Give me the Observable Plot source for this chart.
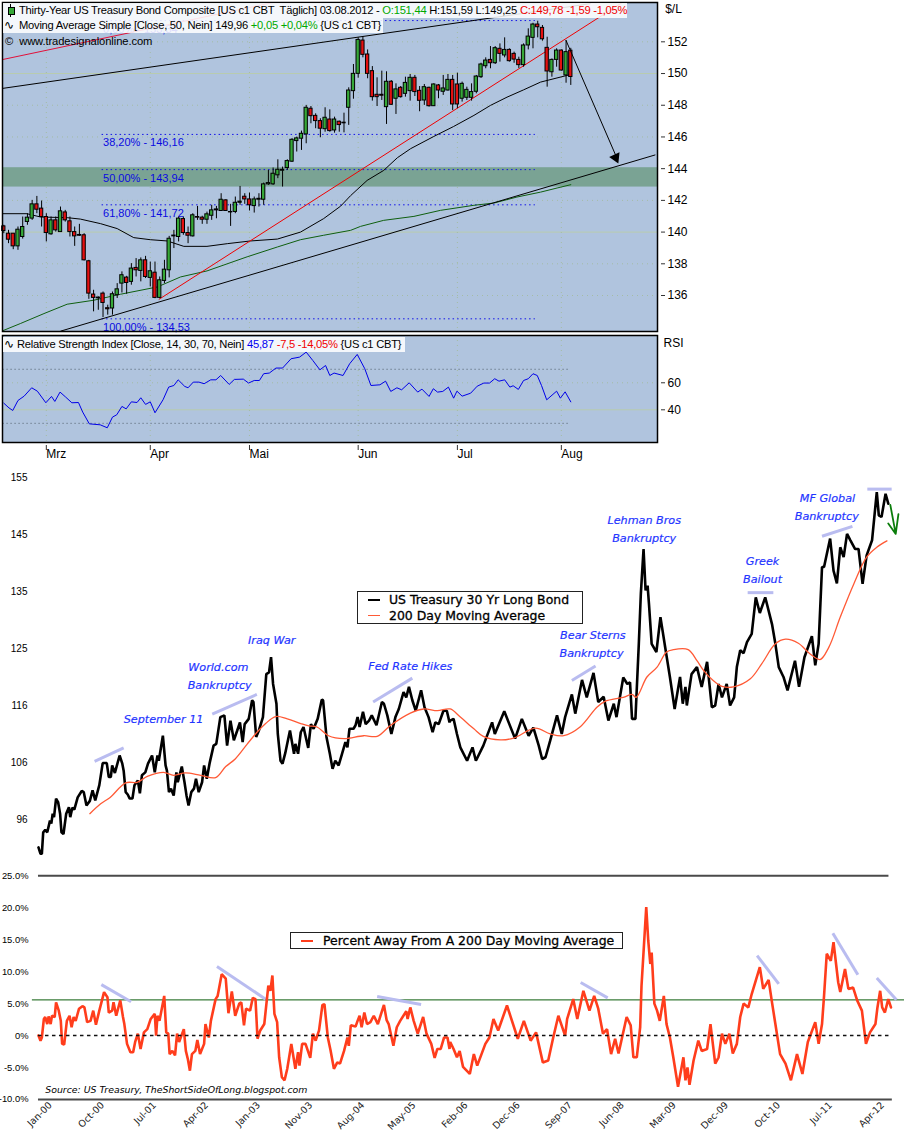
<!DOCTYPE html>
<html>
<head>
<meta charset="utf-8">
<script src="https://cdn.jsdelivr.net/npm/d3@7"></script>
<script src="https://cdn.jsdelivr.net/npm/@observablehq/plot@0.6"></script>
<style>
html,body{margin:0;padding:0;background:#fff}
#root{position:relative;width:904px;height:1147px;overflow:hidden;background:#fff}
.row{position:absolute;font-family:"Liberation Sans",sans-serif;font-size:11.2px;letter-spacing:-.25px;line-height:15px;white-space:pre;color:#000;background:rgba(255,255,255,.86)}
.g{color:#00a800}.r{color:#f00000}.b{color:#0000f0}
.box{position:absolute;background:#fff;border:1px solid #222;box-sizing:border-box}
.lg{position:absolute;font-family:"DejaVu Sans",sans-serif;font-size:12.45px;line-height:14px;white-space:pre;color:#000;-webkit-text-stroke:.3px #000}
.sw{position:absolute;height:0}
</style>
</head>
<body>
<div id="root"></div>
<script>
// ---- Top panel: daily candles (index = trading day) ----
const opens=[140.36,139.90,139.90,139.10,139.69,140.64,140.85,141.75,141.48,140.95,139.86,140.74,140.00,141.24,140.68,140.00,139.82,139.80,138.16,136.06,135.87,136.12,135.20,135.18,136.02,136.75,137.13,136.86,137.74,137.55,138.22,137.11,137.44,135.85,136.92,137.59,139.73,139.69,140.82,139.94,139.73,140.95,140.91,140.78,141.03,141.37,141.33,142.00,141.24,141.27,141.85,142.23,142.06,141.64,142.04,142.04,143.01,143.01,143.58,143.87,144.04,144.44,145.74,145.89,146.16,147.78,147.33,147.00,146.49,147.10,146.41,146.96,146.90,147.84,148.89,149.98,152.08,151.20,150.15,148.66,148.66,147.88,149.48,148.41,149.10,148.72,148.89,149.73,148.91,148.30,149.10,147.94,149.25,148.85,148.93,149.60,149.31,148.41,148.47,148.47,148.85,149.77,150.46,150.86,150.65,151.56,151.14,151.49,151.24,150.86,150.53,151.77,152.25,153.09,152.88,151.62,150.08,150.86,151.45,149.88,151.44];
const highs=[140.43,140.11,139.90,140.32,140.95,141.16,142.00,142.25,141.96,141.16,140.95,140.95,141.58,141.37,140.95,140.32,140.49,139.90,138.22,136.33,135.91,136.22,135.39,136.22,136.75,137.49,137.21,138.01,138.33,138.37,138.47,138.11,138.11,137.17,138.22,139.73,140.11,140.95,140.95,140.32,141.16,141.62,141.00,141.26,141.69,141.62,142.42,142.04,141.75,142.21,142.88,142.42,142.46,142.21,142.42,143.09,143.89,144.04,144.56,144.10,144.56,145.89,145.99,146.37,147.99,147.92,147.46,147.15,147.84,147.71,147.25,147.00,147.50,149.10,150.57,152.25,152.33,151.49,150.44,149.73,150.15,150.11,149.56,149.35,149.18,149.77,149.94,149.88,149.18,149.31,149.14,149.35,149.31,149.88,149.94,149.88,150.02,149.46,149.14,149.35,149.88,150.65,150.99,151.70,151.70,151.87,152.25,151.56,151.35,151.03,151.87,152.82,153.17,153.30,153.03,152.29,150.92,151.56,151.49,152.08,151.59];
const lows=[139.90,139.27,138.89,138.85,139.56,140.43,140.74,141.16,140.32,139.38,139.80,140.00,140.00,140.63,139.69,139.10,139.73,138.18,135.76,134.97,135.07,134.61,134.76,134.76,135.81,136.16,136.08,136.65,137.17,136.86,137.07,136.54,135.80,135.80,136.75,137.11,138.96,139.38,139.80,139.27,139.69,140.74,140.49,140.49,140.74,140.84,141.33,141.33,140.36,141.16,141.69,141.75,141.33,141.20,141.58,141.69,142.95,142.95,143.37,142.84,143.89,144.39,145.05,145.15,145.57,146.83,146.52,145.95,146.30,146.30,146.24,146.30,146.26,146.73,148.38,149.71,150.99,149.67,148.26,147.92,148.30,146.79,147.99,147.42,148.45,148.51,148.26,148.55,147.59,147.99,147.88,147.92,148.41,148.62,148.89,147.67,147.78,148.20,148.30,148.26,148.72,149.69,150.30,150.30,150.57,150.72,150.99,150.72,150.65,150.32,150.40,151.49,151.56,152.25,152.04,149.14,149.77,150.40,150.15,149.39,149.25];
const closes=[140.07,139.52,139.10,140.15,140.32,140.91,141.75,141.41,140.95,139.94,140.74,140.11,141.31,140.74,140.00,139.73,139.77,138.22,136.12,135.85,135.82,135.53,135.13,136.08,136.39,137.28,136.79,137.70,137.59,138.22,137.17,137.53,135.85,136.96,137.63,139.58,139.78,140.85,139.94,139.77,141.06,140.91,140.78,141.12,141.37,141.43,142.04,141.33,141.27,141.85,141.92,142.06,141.69,142.06,142.10,143.01,143.09,143.68,143.93,143.93,144.48,145.82,145.91,146.20,147.84,147.31,147.00,146.52,147.21,146.37,147.10,146.75,146.86,148.93,149.98,152.12,151.18,149.98,148.51,148.51,148.60,149.48,148.03,149.00,148.51,149.41,149.73,148.83,148.28,149.14,147.94,149.31,148.93,149.06,149.60,148.05,148.05,149.35,148.97,148.83,149.81,150.57,150.82,150.65,151.60,151.24,151.49,150.78,150.88,150.53,151.77,152.33,153.09,152.92,152.16,150.13,150.86,151.45,150.19,151.35,149.78];
const ma50Days=[-0.3,4.9,7.8,13.4,16.2,20.5,24,27.5,31,34.6,38.1,43,47.3,52.2,57.9,62.8,67.7,71.3,73.4,76.9,80.4,83.3,86.1,91,95.2,99.5,103,106.5,110,113.6,120];
const ma50Vals=[141.16,141.16,140.95,140.91,140.82,140.53,140.22,139.65,139.52,139.44,139.10,139.10,139.27,139.44,139.56,140.00,140.85,141.64,142.30,143.26,143.89,144.69,145.26,146.03,146.66,147.36,147.99,148.51,148.97,149.46,149.94];
const ma200Days=[-0.3,3.5,8.5,13.4,19,24.7,32.5,37.4,43,51.5,57.9,62.8,67.7,73.4,75.5,80.4,86.8,92.4,99.5,103.7,108.6,113.6,117.1,120];
const ma200Vals=[133.77,134.23,134.86,135.45,135.70,136.08,136.54,137.17,137.55,138.44,139.06,139.52,139.80,140.11,140.36,140.74,140.99,141.37,141.69,141.83,142.21,142.52,142.78,142.99];
const trendLines=[
 {x1:-0.3,y1:149.06,x2:124.2,y2:154.41,stroke:"#000"},
 {x1:-0.3,y1:150.88,x2:57,y2:154.48,stroke:"#e0103a"},
 {x1:32.8,y1:135.75,x2:130.9,y2:154.48,stroke:"#f00000"},
 {x1:12,y1:133.75,x2:137.9,y2:144.87,stroke:"#000"}
];
const fibLevels=[153.34,146.16,143.94,141.72,134.53];
const fibLabels=["0,00% - 153,34","38,20% - 146,16","50,00% - 143,94","61,80% - 141,72","100,00% - 134,53"];
const zoneLow=142.84, zoneHigh=144.06;
const arrowDays=[119,129.8], arrowPrices=[152.08,144.64];
const priceTicks=[136,138,140,142,144,146,148,150,152];
// ---- RSI ----
const rsiDays=[0,1.1,1.9,3,4.3,5.9,7.1,8.9,10.1,10.8,11.9,13.1,14.4,15.8,16.7,18.1,20.4,21.9,23,23.9,25,25.9,27,28.2,29,30,31,32,33.7,34.9,36,36.9,38.3,39,40.1,41.3,42.4,43.8,44.9,45.9,47.7,48.8,50.7,51.8,53,54.1,55,56.2,57.6,59,60.8,62.6,64,65.4,66.9,68.1,69,69.9,71.8,73.2,74.8,76.4,77.7,79.6,80.8,81.9,83.2,84.2,85.8,87.6,88.5,90,90.9,91.8,92.9,94.1,95.2,95.9,97,98.8,100.2,101.6,102.8,103.9,104.8,106,107.1,107.8,108.9,110,111,112,112.9,113.8,114.9,117,117.8,118.8,120];
const rsiVals=[44.9,41.4,39.5,46.9,50.1,56.3,53.8,45.2,49.9,46.2,53.1,49.4,45.2,45.4,38.3,29.6,28.9,26.7,34.6,36.3,42.5,40.7,45.9,45.4,48.9,44,45.9,37.8,47.4,56.8,58,62.2,57.3,56.3,60.5,60.5,59.3,62.2,62.2,65.4,58.8,62.5,62.7,59.8,61.7,61.7,66.7,67.2,70.9,70.9,77.8,79,82.7,76.5,69.6,72.8,65.4,67.2,65.4,74.1,81,70.4,58,58.5,61.2,53.6,56.3,54.8,60,53.1,55.3,49.9,55.6,53.1,53.6,56.8,48.6,53.8,50.1,52.3,57.5,59.8,59.8,63,61.2,62.2,56.8,57.8,55.1,61.7,63,66.7,65.4,58,47.4,53.8,48.6,53.3,45.87];
const monthDays=[9,31,52,75,96,118];
const monthNames=["Mrz","Apr","Mai","Jun","Jul","Aug"];
// ---- Middle panel: bond, decimal years ----
const bondYears=[2000.00,2000.03,2000.05,2000.07,2000.10,2000.13,2000.17,2000.19,2000.21,2000.23,2000.26,2000.29,2000.32,2000.34,2000.37,2000.41,2000.45,2000.47,2000.50,2000.53,2000.58,2000.64,2000.67,2000.71,2000.76,2000.80,2000.84,2000.90,2000.95,2001.01,2001.04,2001.07,2001.09,2001.13,2001.20,2001.24,2001.26,2001.29,2001.32,2001.35,2001.39,2001.42,2001.47,2001.50,2001.53,2001.58,2001.62,2001.68,2001.72,2001.76,2001.78,2001.84,2001.88,2001.90,2001.93,2001.96,2002.00,2002.04,2002.06,2002.12,2002.16,2002.19,2002.22,2002.26,2002.30,2002.33,2002.37,2002.42,2002.45,2002.49,2002.53,2002.59,2002.63,2002.69,2002.75,2002.79,2002.84,2002.89,2002.94,2002.98,2003.02,2003.05,2003.11,2003.16,2003.18,2003.22,2003.26,2003.32,2003.37,2003.41,2003.44,2003.47,2003.52,2003.54,2003.58,2003.61,2003.65,2003.72,2003.78,2003.80,2003.84,2003.88,2003.92,2003.99,2004.03,2004.07,2004.13,2004.19,2004.21,2004.26,2004.31,2004.35,2004.39,2004.44,2004.49,2004.54,2004.57,2004.60,2004.66,2004.69,2004.72,2004.75,2004.80,2004.84,2004.89,2004.93,2005.00,2005.08,2005.11,2005.16,2005.22,2005.28,2005.33,2005.40,2005.44,2005.48,2005.53,2005.58,2005.66,2005.71,2005.77,2005.83,2005.87,2005.92,2005.99,2006.04,2006.08,2006.09,2006.14,2006.19,2006.24,2006.34,2006.42,2006.47,2006.58,2006.71,2006.75,2006.89,2007.05,2007.15,2007.25,2007.32,2007.40,2007.45,2007.50,2007.57,2007.67,2007.74,2007.79,2007.89,2007.94,2008.04,2008.11,2008.21,2008.28,2008.36,2008.43,2008.51,2008.55,2008.65,2008.71,2008.75,2008.78,2008.83,2008.88,2008.91,2008.95,2008.98,2009.01,2009.03,2009.07,2009.14,2009.20,2009.27,2009.34,2009.41,2009.49,2009.53,2009.57,2009.59,2009.66,2009.74,2009.81,2009.89,2009.96,2010.01,2010.06,2010.11,2010.18,2010.23,2010.29,2010.33,2010.38,2010.43,2010.48,2010.55,2010.61,2010.67,2010.75,2010.85,2010.90,2010.95,2011.02,2011.08,2011.19,2011.25,2011.33,2011.44,2011.49,2011.54,2011.59,2011.62,2011.71,2011.76,2011.81,2011.86,2011.91,2011.96,2012.01,2012.08,2012.13,2012.19,2012.25,2012.33,2012.40,2012.43,2012.47,2012.53,2012.57];
const bondVals=[91.2,90.1,90.1,93.8,94.2,93.8,95.8,95.3,97,96.4,99.6,99,97,93.8,93.5,97,98.1,96.4,98,97.7,99.8,100.9,100.7,98.4,99.2,101,99.3,101.9,105.7,105.7,103.3,103.3,105.3,104,107,105.6,104.4,100.7,100.3,99.6,99.6,101.9,102.7,100.5,103.6,104.1,105.6,107,104.1,107,106.1,110.4,105.3,104.4,100.7,101.3,100.1,104.1,102.4,105.1,102.4,100.1,98.4,100.7,101.3,103,100.7,102.4,105.3,103,105.6,108.7,109,113.6,113.9,108.7,113,109.6,111.3,112.7,109.3,112.4,113.3,116.5,116.2,110.2,111.3,113.6,121,121.3,123.9,119.3,115.9,110.7,106.1,105.6,107.4,111.3,107.3,109,107.3,111,111.9,108.3,112.4,111.6,113.3,116.6,116.5,110.2,107.3,104.7,106.1,105.3,107.3,109.3,108.4,111.6,111.6,112.2,113.6,111.9,114.5,112.4,113,113.9,112.2,116.2,115.9,113.9,110.7,113.6,115,117.9,117,118.8,116.5,114.7,118.2,115.3,113.6,111,112.7,112.4,114.7,114.7,112.7,113,113.3,110.7,108.4,106.1,108.4,106.1,108.7,112.7,110.7,114.6,109.9,113.3,110.4,111.8,108.7,106.4,106.7,109.6,113.9,110.7,113.6,117.5,114.2,120,117,121.2,116.2,117.1,113,115.9,113.6,120.4,119.3,119.6,113.3,113.3,126.2,134.8,142.5,135.4,136.2,133.1,126.2,124.8,130.8,125.6,120.5,115,120.5,115.9,118.8,115.6,121,122.2,118.8,123.1,115.3,115.6,119.3,117,119.3,115.6,117,122.2,125.1,124.6,126.5,127.9,134.2,131.5,134.2,129.6,126.2,122.2,120.5,118.2,123.3,118.8,123.9,127.5,122.5,126.2,139.4,139.4,144.3,138.8,136.6,142.8,141.1,145.1,144,142.5,142.5,136.5,141.4,144,152.3,148.3,148,152,150.3];
const maYears=[2000.76,2000.92,2001.06,2001.29,2001.46,2001.61,2001.85,2002.00,2002.17,2002.40,2002.62,2002.77,2002.91,2003.09,2003.21,2003.36,2003.51,2003.68,2003.88,2004.00,2004.12,2004.29,2004.52,2004.81,2005.01,2005.21,2005.50,2005.70,2005.90,2006.09,2006.24,2006.44,2006.58,2006.83,2007.03,2007.35,2007.57,2007.77,2008.01,2008.26,2008.38,2008.65,2008.78,2008.84,2009.00,2009.15,2009.29,2009.39,2009.61,2009.74,2009.84,2009.98,2010.11,2010.28,2010.53,2010.70,2010.90,2011.05,2011.24,2011.41,2011.56,2011.69,2011.86,2012.06,2012.25,2012.40,2012.55];
const maVals=[97,98.7,99.8,102.3,102.4,103.4,104.1,103.6,104,103.6,103.2,105.1,106.4,109,110.7,112.5,113.7,113.3,112.5,112.1,111.9,110.4,109.9,110.4,110.3,112.2,114.3,115,114.7,115,113.6,111.6,110.3,109.7,110,111.7,110.7,110.4,111.9,115.3,116.3,117,117.5,117,120.5,122.2,124.8,125.2,125.2,123.3,121.6,119.9,118.9,118.8,120.2,122.8,126.2,127,126.3,124.5,123.5,125.6,130.8,136.5,141.1,142.8,143.9];
const bondTicks=[96,105.8,115.6,125.4,135.2,145,154.8];
const bondNotes=[
 {yr:2001.85,v:113.2,t:"September 11"},{yr:2002.66,v:122.1,t:"World.com"},{yr:2002.68,v:119.0,t:"Bankruptcy"},
 {yr:2003.45,v:126.8,t:"Iraq War"},{yr:2005.5,v:122.3,t:"Fed Rate Hikes"},{yr:2008.2,v:127.6,t:"Bear Sterns"},
 {yr:2008.18,v:124.5,t:"Bankruptcy"},{yr:2008.96,v:147.4,t:"Lehman Bros"},{yr:2008.96,v:144.3,t:"Bankruptcy"},
 {yr:2010.71,v:140.4,t:"Greek"},{yr:2010.71,v:137.3,t:"Bailout"},{yr:2011.67,v:151.2,t:"MF Global"},{yr:2011.66,v:148.1,t:"Bankruptcy"}
];
const bondMarks=[
 {x1:2000.83,y1:106,x2:2001.26,y2:108.3},{x1:2002.57,y1:114.1,x2:2003.23,y2:117.5},{x1:2004.95,y1:116.2,x2:2005.53,y2:120.3},
 {x1:2007.89,y1:119.9,x2:2008.24,y2:122.4},{x1:2010.49,y1:135,x2:2010.87,y2:135},{x1:2011.59,y1:144.7,x2:2012.04,y2:146.4},{x1:2012.26,y1:152.8,x2:2012.62,y2:152.8}
];
const greenArrowYears=[2012.6,2012.68,2012.57,2012.68,2012.72];
const greenArrowVals=[150.1,145.1,146.9,145.1,148.5];
// ---- Bottom panel: percent from MA ----
const pctYears=[2000.00,2000.03,2000.05,2000.08,2000.10,2000.13,2000.15,2000.18,2000.20,2000.24,2000.26,2000.30,2000.33,2000.35,2000.38,2000.42,2000.46,2000.49,2000.52,2000.55,2000.60,2000.65,2000.68,2000.72,2000.77,2000.81,2000.85,2000.90,2000.97,2001.02,2001.04,2001.09,2001.11,2001.15,2001.21,2001.25,2001.27,2001.31,2001.36,2001.40,2001.43,2001.47,2001.51,2001.56,2001.61,2001.66,2001.72,2001.74,2001.76,2001.79,2001.86,2001.89,2001.92,2001.94,2001.98,2002.02,2002.05,2002.08,2002.15,2002.18,2002.21,2002.24,2002.27,2002.32,2002.35,2002.39,2002.45,2002.47,2002.52,2002.55,2002.62,2002.65,2002.71,2002.77,2002.81,2002.86,2002.91,2002.97,2003.00,2003.04,2003.07,2003.13,2003.17,2003.21,2003.24,2003.28,2003.34,2003.40,2003.43,2003.46,2003.49,2003.53,2003.56,2003.60,2003.64,2003.68,2003.74,2003.80,2003.84,2003.86,2003.90,2003.95,2004.02,2004.06,2004.10,2004.15,2004.20,2004.23,2004.28,2004.32,2004.37,2004.42,2004.46,2004.52,2004.57,2004.59,2004.62,2004.69,2004.72,2004.75,2004.78,2004.82,2004.86,2004.91,2004.96,2005.02,2005.11,2005.15,2005.18,2005.25,2005.30,2005.35,2005.44,2005.46,2005.50,2005.55,2005.61,2005.69,2005.74,2005.81,2005.86,2005.90,2005.95,2006.00,2006.05,2006.08,2006.09,2006.14,2006.19,2006.23,2006.28,2006.38,2006.44,2006.49,2006.61,2006.67,2006.73,2006.80,2006.93,2007.09,2007.18,2007.28,2007.36,2007.46,2007.54,2007.61,2007.69,2007.79,2007.82,2007.91,2007.97,2008.06,2008.15,2008.22,2008.28,2008.35,2008.41,2008.47,2008.53,2008.58,2008.70,2008.76,2008.80,2008.85,2008.90,2008.92,2008.99,2009.02,2009.05,2009.07,2009.11,2009.15,2009.19,2009.25,2009.29,2009.34,2009.39,2009.46,2009.54,2009.57,2009.60,2009.63,2009.69,2009.76,2009.81,2009.89,2009.94,2010.01,2010.06,2010.11,2010.16,2010.22,2010.27,2010.33,2010.38,2010.43,2010.50,2010.55,2010.67,2010.72,2010.80,2010.85,2010.90,2010.97,2011.05,2011.13,2011.22,2011.30,2011.38,2011.49,2011.54,2011.59,2011.62,2011.66,2011.72,2011.76,2011.83,2011.86,2011.93,2011.98,2012.05,2012.11,2012.18,2012.24,2012.30,2012.38,2012.41,2012.45,2012.48,2012.52,2012.57,2012.61];
const pctVals=[0,-0.8,-0.3,2.6,2.9,1.8,3,1.8,3.1,2.9,5.2,3.9,2.3,-1.3,-1.4,2.3,3.1,1.3,2.9,2.3,4.2,4.6,4.4,2.1,2.3,3.9,1.7,3.9,6.8,6,3.6,3.9,5.2,3.1,5.5,2.9,1.8,-1.3,-2.6,-2.6,-1,0.3,-2.1,0.5,1,2.6,3.4,0,3.1,2.3,6.2,0.5,0.3,-2.9,-2.4,-3.1,0.3,-1,1,-2.4,-3.7,-5.5,-2.9,-2.4,-0.7,-2.9,-1.3,1.8,-0.3,2.3,5.7,6.2,9.6,8.9,3.5,6.9,3.1,5,5.2,1.6,4.2,3.9,5.9,5.7,-0.5,0.8,1.8,7.8,7,9.4,3.4,2.1,-3.4,-6.5,-7,-5.2,-1.3,-5.2,-2.6,-4.7,-1.3,-1.3,-3.5,0.3,-0.8,0.8,4.8,4.9,-0.3,-2.3,-5.2,-4.2,-4.4,-2.4,-0.3,-1.6,1.6,1.4,2.3,3.1,1.3,3.6,1.8,2.1,3.1,1.8,4.8,2.4,1.8,-1.6,1.3,2.3,3.8,2.6,4.4,2.3,0.3,2.9,0.3,-1.3,-3.5,-2.1,-2.1,-0.3,-0.3,-2.1,-1,-2.1,-3.4,-2.4,-4.9,-6,-2.9,-4.7,-1.3,-0.3,2.6,0.8,4.7,-0.5,2.3,-0.8,0.5,-4.2,-3.9,-0.5,3.1,0,2.6,5.7,2.6,7,3.9,6.2,4.2,0.3,1,-2.9,-0.5,-2.8,2.9,1.6,-3.4,-3.4,1.3,7.8,20.1,14.8,11.2,13,5,3.9,2.3,6.2,1.8,-0.3,-3.4,-8,-3.4,-7,-5,-7.7,-3.9,-0.8,-2.4,-2.1,1.8,-4.4,-3.4,0.3,-1.3,0.3,-2.8,-1.3,2.9,5,4.4,6.5,10.7,7.3,8.7,5.2,1.8,-2.9,-4.4,-7,-2.9,-6,-1,2.1,-1.3,1.8,6.2,12.8,11.7,14.6,8.3,6.8,10.4,7.3,7.5,5.5,3.9,-1.3,0.5,1.8,4.4,7,4.4,3.6,5.7,4.4];
const pctTicks=[-10,-5,0,5,10,15,20,25];
const pctMarks=[
 {x1:2000.93,y1:7.97,x2:2001.37,y2:5.3},{x1:2002.64,y1:10.8,x2:2003.36,y2:5.7},{x1:2005.01,y1:6.1,x2:2005.66,y2:4.85},
 {x1:2008.02,y1:8.3,x2:2008.42,y2:5.9},{x1:2010.63,y1:12.5,x2:2010.95,y2:8.1},{x1:2011.75,y1:16,x2:2012.12,y2:9.5},{x1:2012.40,y1:9,x2:2012.69,y2:5.6}
];
const dateTicks=[2000,2000.77,2001.54,2002.31,2003.08,2003.85,2004.62,2005.38,2006.15,2006.92,2007.69,2008.46,2009.23,2010,2010.77,2011.54,2012.31];
const dateLabels=["Jan-00","Oct-00","Jul-01","Apr-02","Jan-03","Nov-03","Aug-04","May-05","Feb-06","Dec-06","Sep-07","Jun-08","Mar-09","Dec-09","Oct-10","Jul-11","Apr-12"];

// ------------------------------------------------------------
const candles=opens.map((o,i)=>({i,o,h:highs[i],l:lows[i],c:closes[i]}));
const root=document.getElementById("root");
const PANEL="#b0c4de";
const put=(svg,top)=>{svg.style.position="absolute";svg.style.left="0";svg.style.top=top+"px";svg.style.maxWidth="none";root.appendChild(svg);};
const gridSolid=[140,150], gridDot=priceTicks.filter(d=>!gridSolid.includes(d));

put(Plot.plot({
  width:904,height:334,marginLeft:2,marginRight:247,marginTop:2,marginBottom:3,
  style:{background:"transparent",fontFamily:"Liberation Sans",fontSize:"12px",color:"#000"},
  x:{domain:[-0.275,138.35],axis:null},
  y:{domain:[133.73,154.48],axis:null},
  marks:[
    Plot.frame({fill:PANEL,stroke:"none"}),
    Plot.ruleY(gridSolid,{stroke:"#b8ccae",strokeWidth:1}),
    Plot.ruleY(gridDot,{stroke:"#a4bca4",strokeWidth:1,strokeDasharray:"1,4"}),
    Plot.ruleX(monthDays,{stroke:"#a4bca4",strokeWidth:1,strokeDasharray:"1,4"}),
    Plot.rectY([0],{y1:zoneLow,y2:zoneHigh,fill:"#7aa394"}),
    Plot.ruleY(fibLevels,{x1:20.8,x2:112.5,stroke:"#1010e8",strokeWidth:1,strokeDasharray:"1.5,3"}),
    Plot.text(fibLevels,{x:21,y:d=>d,text:(d,i)=>fibLabels[i],dy:8.5,textAnchor:"start",fill:"#0a0ae0",fontSize:11,letterSpacing:"-0.25px"}),
    Plot.line(ma200Days,{x:d=>d,y:(d,i)=>ma200Vals[i],stroke:"#0f5f0f",strokeWidth:1,clip:true}),
    Plot.line(ma50Days,{x:d=>d,y:(d,i)=>ma50Vals[i],stroke:"#000",strokeWidth:1,clip:true}),
    Plot.link(trendLines,{x1:"x1",y1:"y1",x2:"x2",y2:"y2",stroke:"stroke",strokeWidth:1,clip:true}),
    Plot.ruleX(candles,{x:"i",y1:"l",y2:"h",stroke:"#000",strokeWidth:1}),
    Plot.rect(candles,{x1:d=>d.i-0.35,x2:d=>d.i+0.35,y1:"o",y2:"c",fill:d=>d.c>=d.o?"#36a838":"#e41010",stroke:"#000",strokeWidth:1}),
    Plot.line(arrowDays,{x:d=>d,y:(d,i)=>arrowPrices[i],stroke:"#000",strokeWidth:1}),
    Plot.dot([0],{x:arrowDays[1]-0.3,y:arrowPrices[0]-7.38,symbol:"triangle",r:4.2,rotate:156,fill:"#000"}),
    Plot.frame({stroke:"#000",strokeWidth:1.5}),
    Plot.axisY({anchor:"right",ticks:priceTicks,tickSize:4,tickPadding:3,dx:3,stroke:"#333",label:null,tickFormat:d=>d,fontSize:12}),
    Plot.text(["$/L"],{frameAnchor:"top-right",dx:16,dy:2,textAnchor:"middle",fontSize:12})
  ]
}),0);

put(Plot.plot({
  width:904,height:130,marginLeft:2,marginRight:247,marginTop:1,marginBottom:22,
  style:{background:"transparent",fontFamily:"Liberation Sans",fontSize:"12px",color:"#000"},
  x:{domain:[-0.275,138.35],axis:null},
  y:{domain:[15.8,95],axis:null},
  marks:[
    Plot.frame({fill:PANEL,stroke:"none"}),
    Plot.ruleY([40],{stroke:"#b8ccae",strokeWidth:1}),
    Plot.ruleY([60],{stroke:"#a4bca4",strokeDasharray:"1,4"}),
    Plot.ruleY([30,70],{x1:-0.2,x2:119.5,stroke:"#6f7f8f",strokeDasharray:"1.5,2.5"}),
    Plot.ruleX(monthDays,{stroke:"#a4bca4",strokeDasharray:"1,4"}),
    Plot.line(rsiDays,{x:d=>d,y:(d,i)=>rsiVals[i],stroke:"#0000e8",strokeWidth:1}),
    Plot.frame({stroke:"#000",strokeWidth:1.5}),
    Plot.axisY({anchor:"right",ticks:[40,60],tickSize:4,tickPadding:3,dx:3,stroke:"#333",label:null,fontSize:12}),
    Plot.axisX({ticks:monthDays,tickFormat:d=>monthNames[monthDays.indexOf(d)],tickSize:5,tickPadding:-1,dy:3,textAnchor:"start",dx:0,label:null,fontSize:12,stroke:"#333"}),
    Plot.text(["RSI"],{frameAnchor:"top-right",dx:16,dy:3,textAnchor:"middle",fontSize:12})
  ]
}),334);

const yrDomain=[1999.882,2012.81];
put(Plot.plot({
  width:904,height:390,marginLeft:30,marginRight:0,marginTop:0,marginBottom:0,
  style:{background:"transparent",fontFamily:"Liberation Sans",fontSize:"10px",color:"#000"},
  x:{domain:yrDomain,axis:null},
  y:{domain:[88.95,156],axis:null},
  marks:[
    Plot.link(bondMarks,{x1:"x1",y1:"y1",x2:"x2",y2:"y2",stroke:"#b9bcf0",strokeWidth:3}),
    Plot.line(bondYears,{x:d=>d,y:(d,i)=>bondVals[i],stroke:"#000",strokeWidth:2.6,strokeLinejoin:"miter"}),
    Plot.line(maYears,{x:d=>d,y:(d,i)=>maVals[i],stroke:"#ff5a36",strokeWidth:1.3,curve:"catmull-rom"}),
    Plot.line(greenArrowYears,{x:d=>d,y:(d,i)=>greenArrowVals[i],stroke:"#0b7d0b",strokeWidth:1.8}),
    Plot.text(bondNotes,{x:"yr",y:"v",text:"t",fill:"#1f35ff",stroke:"#1f35ff",strokeWidth:0.2,fontStyle:"italic",fontSize:11.2,fontFamily:"DejaVu Sans",letterSpacing:"0.4px"}),
    Plot.axisY({ticks:bondTicks,tickSize:0,tickPadding:3,tickFormat:d=>Math.round(d),label:null,anchor:"left",fontSize:10})
  ]
}),470);

put(Plot.plot({
  width:904,height:287,marginLeft:30,marginRight:0,marginTop:0,marginBottom:47,
  style:{background:"transparent",fontFamily:"Liberation Sans",fontSize:"9.4px",color:"#000"},
  x:{domain:yrDomain,axis:null},
  y:{domain:[-10.16,27.39],axis:null},
  marks:[
    Plot.ruleY([25],{x1:2000,x2:2012.58,stroke:"#4a4a4a",strokeWidth:2}),
    Plot.ruleY([-10],{x1:2000,x2:2012.63,stroke:"#4a4a4a",strokeWidth:2}),
    Plot.ruleY([5.58],{x1:1999.91,x2:2012.81,stroke:"#0b5d0b",strokeWidth:1}),
    Plot.link(pctMarks,{x1:"x1",y1:"y1",x2:"x2",y2:"y2",stroke:"#b9bcf0",strokeWidth:3}),
    Plot.line(pctYears,{x:d=>d,y:(d,i)=>pctVals[i],stroke:"#ff3d1c",strokeWidth:2.6,strokeLinejoin:"miter"}),
    Plot.ruleY([0],{x1:2000,x2:2012.6,stroke:"#111",strokeWidth:1.5,strokeDasharray:"3.5,3.5"}),
    Plot.text(["Source: US Treasury, TheShortSideOfLong.blogspot.com"],{x:2000.1,y:-8.44,textAnchor:"start",fontStyle:"italic",fontSize:9.35,fontFamily:"DejaVu Sans",fill:"#000"}),
    Plot.axisY({ticks:pctTicks,tickSize:0,tickPadding:2,tickFormat:d=>d===0?"0%":d.toFixed(1)+"%",label:null,anchor:"left",fontSize:9.4}),
    Plot.axisX({ticks:dateTicks,tickFormat:d=>dateLabels[dateTicks.indexOf(d)],tickSize:0,tickRotate:-45,tickPadding:3,dx:12,label:null,fontSize:9.5,fontFamily:"DejaVu Sans",fill:"#222"})
  ]
}),860);

// overlays: legends above the panels
function html(s){const t=document.createElement("template");t.innerHTML=s.trim();root.appendChild(t.content.firstChild);}
html(`<div class="row" style="left:3px;top:3px;width:624px;height:15px;padding-left:16px;box-sizing:border-box">Thirty-Year US Treasury Bond Composite [US c1 CBT  Täglich] 03.08.2012 - <span class="g">O:151,44</span> H:151,59 L:149,25 <span class="r">C:149,78 -1,59 -1,05%</span></div>`);
html(`<div class="row" style="left:3px;top:18px;width:380px;height:15px;padding-left:16px;box-sizing:border-box">Moving Average Simple [Close, 50, Nein] 149,96 <span class="g">+0,05 +0,04%</span> {US c1 CBT}</div>`);
html(`<div style="position:absolute;left:10px;top:4px;width:1px;height:13px;background:#000"></div>`);
html(`<div style="position:absolute;left:8px;top:7px;width:5px;height:6px;background:#36a838;border:1px solid #000;box-sizing:content-box"></div>`);
html(`<div style="position:absolute;left:4px;top:18px;font:12px 'DejaVu Sans';line-height:15px;color:#000">∿</div>`);
html(`<div style="position:absolute;left:5px;top:34px;font:11.2px 'Liberation Sans';letter-spacing:-.1px;line-height:14px;color:#000">©&nbsp;&nbsp;www.tradesignalonline.com</div>`);
html(`<div class="row" style="left:3px;top:337px;width:402px;height:15px;padding-left:14px;box-sizing:border-box">Relative Strength Index [Close, 14, 30, 70, Nein] <span class="b">45,87</span> <span class="r">-7,5 -14,05%</span> {US c1 CBT}</div>`);
html(`<div style="position:absolute;left:4px;top:337px;font:12px 'DejaVu Sans';line-height:15px;color:#000">∿</div>`);
html(`<div class="box" style="left:357px;top:591px;width:226px;height:33px"></div>`);
html(`<div class="sw" style="left:368px;top:599px;width:12px;border-top:2.5px solid #000"></div>`);
html(`<div class="sw" style="left:368px;top:615px;width:12px;border-top:1.3px solid #ff5a36"></div>`);
html(`<div class="lg" style="left:389px;top:593px">US Treasury 30 Yr Long Bond</div>`);
html(`<div class="lg" style="left:389px;top:609px">200 Day Moving Average</div>`);
html(`<div class="box" style="left:290px;top:932px;width:333px;height:17px"></div>`);
html(`<div class="sw" style="left:301px;top:940px;width:12px;border-top:2.5px solid #ff3d1c"></div>`);
html(`<div class="lg" style="left:323px;top:934px">Percent Away From A 200 Day Moving Average</div>`);
</script>
</body>
</html>
